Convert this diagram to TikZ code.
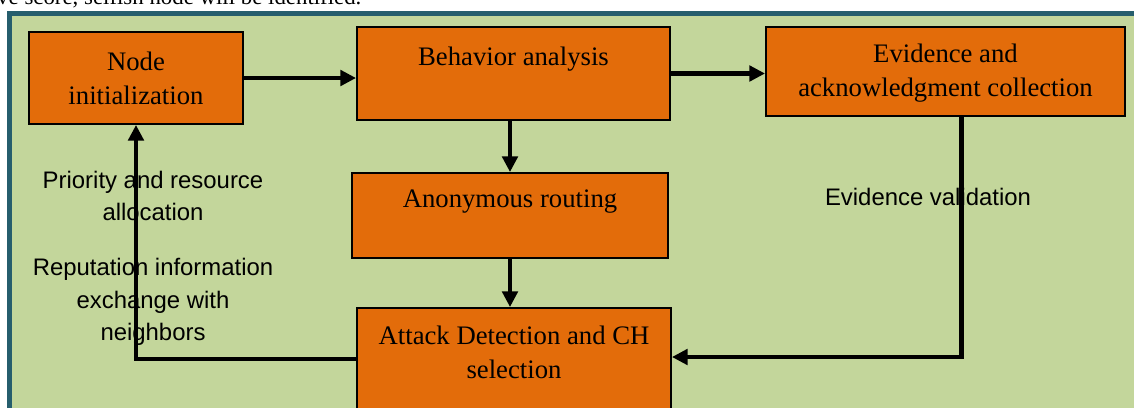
\documentclass[tikz,border=0pt]{standalone}
\usepackage{fontspec}
\setmainfont{Liberation Serif}
\newfontfamily\lblfont{Liberation Sans}
\usetikzlibrary{arrows.meta}
\definecolor{panelgreen}{HTML}{C3D69B}
\definecolor{panelframe}{HTML}{265E6D}
\definecolor{boxorange}{HTML}{E36C0A}

\begin{document}
\begin{tikzpicture}[x=0.03cm,y=-0.03cm,
	blk/.style={draw=black,line width=1.6pt,fill=boxorange,align=center,inner sep=0pt,font=\fontsize{22.8}{29}\selectfont},
	arr/.style={-{Triangle[length=0.47cm,width=0.46cm]},line width=3.7pt},
	lbl/.style={align=center,font=\lblfont\fontsize{20.4}{28}\selectfont}]
	\useasboundingbox (0,0) rectangle (1134,407);
	\clip (0,0) rectangle (1134,407);
	\node[anchor=base west,inner sep=0pt,font=\fontsize{19.5}{24}\selectfont] (prev) at (-3,4) {ve score, selfish node will be identified.};
	\draw[panelframe,fill=panelgreen,line width=0.15cm] (9.5,13.5) rectangle (1200,500);
	
	\node[blk,minimum width=6.42cm,minimum height=2.76cm] (init) at (136,78) {Node\\initialization};
	\node[blk,minimum width=9.39cm,minimum height=2.79cm] (behav) at (513.5,73.5) {Behavior analysis\\\mbox{}};
	\node[blk,minimum width=10.77cm,minimum height=2.67cm,text depth=0.1cm] (evid) at (945.5,71.5) {Evidence and\\acknowledgment collection};
	\node[blk,minimum width=9.48cm,minimum height=2.55cm] (anon) at (510,215.5) {Anonymous routing\\\mbox{}};
	\node[blk,minimum width=9.42cm,minimum height=3.66cm] (attack) at (514,369) {Attack Detection and CH\\selection\\\mbox{}};
	
	\node[lbl] (prio) at (153,196) {Priority and resource\\allocation};
	\node[lbl] (rep) at (153,302) {Reputation information\\exchange with\\neighbors};
	\node[lbl] (valid) at (928,197) {Evidence validation};
	
	\draw[arr] (init.east) -- (init.east -| behav.west);
	\draw[arr] (behav.east) -- (behav.east -| evid.west);
	\draw[arr] (anon.north |- behav.south) -- (anon.north);
	\draw[arr] (anon.south) -- (anon.south |- attack.north);
	\draw[arr] ([xshift=0.48cm]evid.south) |- ([yshift=0.36cm]attack.east);
	\draw[arr] ([yshift=0.3cm]attack.west) -| (init.south);
\end{tikzpicture}
\end{document}
